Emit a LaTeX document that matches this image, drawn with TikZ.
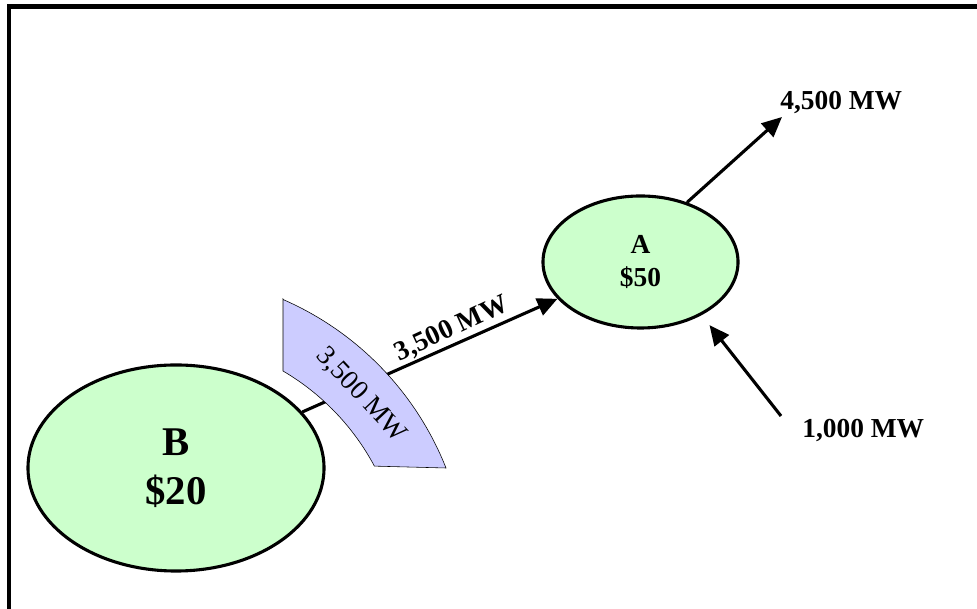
\documentclass[tikz,border=0pt]{standalone}
\usepackage{fontspec}
\setmainfont{Liberation Serif}
\usetikzlibrary{positioning}
\usetikzlibrary{shapes}
\usetikzlibrary{arrows.meta}

\definecolor{zonegreen}{RGB}{204,255,204}
\definecolor{bandblue}{RGB}{204,204,255}

\begin{document}
\begin{tikzpicture}[
        % one unit is one pixel of the slide
        x=0.025cm, y=0.025cm,
        zone/.style={
            draw,
            ellipse,
            line width=2.2pt,
            fill=zonegreen,
            align=center,
            inner sep=0pt
        },
        flow/.style={
            line width=2.2pt,
            -{Triangle[length=0.5cm,width=0.45cm]}
        },
        mwlabel/.style={font=\fontsize{19.5}{23}\selectfont\bfseries, inner sep=0pt},
        limitband/.style={draw, thin, fill=bandblue}
        ]

        \useasboundingbox (0,0) rectangle (977,609);
        \clip (0,0) rectangle (977,609);
        \draw[line width=3pt] (9,-20) rectangle (1000,602.5);

        % the two zones
        \node [zone, minimum width=7.4cm, minimum height=5.15cm,
               font=\fontsize{29}{35}\selectfont\bfseries] (B) at (176,141) {B\\\$20};
        \node [zone, minimum width=4.875cm, minimum height=3.3cm,
               font=\fontsize{19.5}{24}\selectfont\bfseries] (A) at (640.5,347) {A\\\$50};

        \coordinate (tip4500) at (782,492);
        \coordinate (tail1000) at (781,193);

        \draw[flow] (B) -- (A);
        \node [mwlabel, rotate=25] (flowBA) at (452,280) {3,500 MW};

        \draw[flow] (A.52) -- (tip4500);
        \node [mwlabel, anchor=base west] (out4500) at (780,499) {4,500 MW};

        \draw[flow, shorten >=9pt] (tail1000) -- (A.-41);
        \node [mwlabel, anchor=base west] (in1000) at (802,171) {1,000 MW};

        % transfer limit band across the line
        \draw[limitband] (283,310) -- (283,238)
            arc[start angle=59.6, end angle=28.1, radius=243] -- (446,141)
            arc[start angle=21.6, end angle=66.4, radius=307] -- cycle;
        \node [rotate=-47, font=\fontsize{19.5}{23}\selectfont] (limit) at (361,214) {3,500 MW};
\end{tikzpicture}
\end{document}
